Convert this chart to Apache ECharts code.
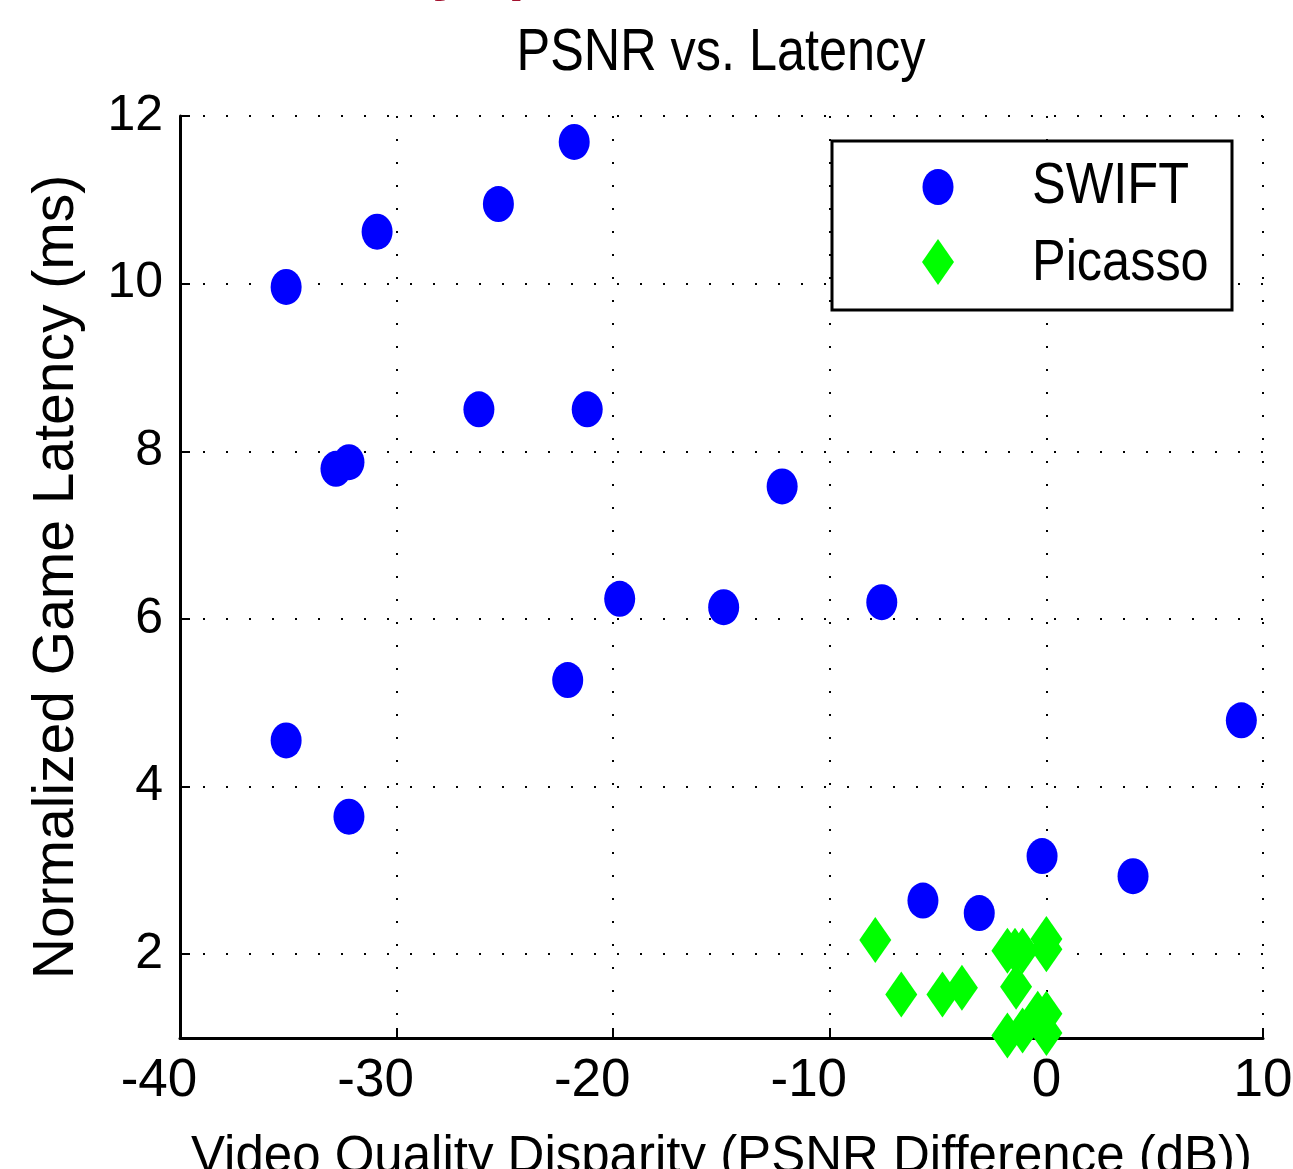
<!DOCTYPE html>
<html>
<head>
<meta charset="utf-8">
<script src="https://cdn.jsdelivr.net/npm/echarts@6/dist/echarts.min.js"></script>
<style>
  html, body { margin: 0; padding: 0; background: #fff; }
  #chart { width: 1293px; height: 1169px; }
</style>
</head>
<body>
<div id="chart"></div>
<script>
// PSNR difference (dB) vs normalized latency (ms)
const swiftX = [-35.1, -30.9, -25.3, -21.8, -32.8, -32.2, -26.2, -21.2, -12.2, -19.7, -14.9, -7.6, -22.1, -35.1, -32.2, 9.0, -0.2, 4.0, -5.7, -3.1];
const swiftY = [9.96, 10.62, 10.95, 11.69, 7.79, 7.87, 8.5, 8.5, 7.58, 6.24, 6.14, 6.2, 5.27, 4.55, 3.64, 4.79, 3.17, 2.93, 2.64, 2.49];
const picassoX = [-7.9, -6.7, -4.8, -3.9, -1.8, -1.45, -1.1, 0.0, 0.0, -1.4, -1.8, -1.1, -0.4, 0.0, 0.0];
const picassoY = [2.17, 1.52, 1.52, 1.6, 2.04, 2.04, 2.04, 2.18, 2.06, 1.61, 1.03, 1.09, 1.29, 1.29, 1.06];
const seriesNames = ['SWIFT', 'Picasso'];
const xTicks = { min: -40, max: 10, step: 10 };
const yRange = { min: 1, max: 12 };

const font = "'Liberation Sans', Arial, sans-serif";

var myChart = echarts.init(document.getElementById('chart'));

const dotted = { color: '#000', width: 2, type: [2, 21] };

option = {
    backgroundColor: '#fff',
    animation: false,
    grid: { left: 180, right: 30, top: 116, bottom: 131, containLabel: false, outerBoundsMode: 'none' },
    xAxis: {
        type: 'value',
        min: xTicks.min,
        max: xTicks.max,
        interval: xTicks.step,
        name: 'Video Quality Disparity (PSNR Difference (dB))',
        nameLocation: 'middle',
        nameGap: 94,
        nameTextStyle: { fontFamily: font, fontSize: 51, color: '#000' },
        axisLine: { onZero: false, lineStyle: { color: '#000', width: 3 } },
        axisTick: { inside: true, length: 10, lineStyle: { color: '#000', width: 2 } },
        axisLabel: {
            margin: 17,
            formatter: function (v) { return v < 0 ? '{n|' + v + '}' : '{p|' + v + '}'; },
            rich: {
                n: { fontFamily: font, fontSize: 53, color: '#000', padding: [0, 42, 0, 0] },
                p: { fontFamily: font, fontSize: 53, color: '#000' }
            }
        },
        splitLine: { show: true, lineStyle: dotted }
    },
    yAxis: {
        type: 'value',
        min: yRange.min,
        max: yRange.max,
        splitNumber: 5,
        name: 'Normalized Game Latency (ms)',
        nameLocation: 'middle',
        nameGap: 94,
        nameTextStyle: { fontFamily: font, fontSize: 57, color: '#000' },
        axisLine: { onZero: false, lineStyle: { color: '#000', width: 3 } },
        axisTick: { inside: true, length: 10, lineStyle: { color: '#000', width: 2 } },
        axisLabel: { showMinLabel: false, margin: 17, fontFamily: font, fontSize: 50, color: '#000' },
        splitLine: { show: true, lineStyle: dotted }
    },
    series: [{
        name: seriesNames[0],
        type: 'scatter',
        symbol: 'circle',
        symbolSize: [31, 36],
        itemStyle: { color: '#0000ff', opacity: 1 },
        data: swiftX.map((x, i) => [x, swiftY[i]])
    }, {
        name: seriesNames[1],
        type: 'scatter',
        symbol: 'diamond',
        symbolSize: [32, 46],
        clip: false,
        itemStyle: { color: '#00ff00', opacity: 1 },
        data: picassoX.map((x, i) => [x, picassoY[i]])
    }],
    graphic: [
        // title, horizontally squeezed like the original figure
        { type: 'text', x: 721, y: 23, scaleX: 0.84, style: { text: 'PSNR vs. Latency', fontFamily: font, fontSize: 60, fill: '#000', align: 'center', verticalAlign: 'top' } },
        // cropped slide heading above the figure
        { type: 'text', left: 432, top: -58, style: { text: 'y', fontFamily: font, fontWeight: 'bold', fontSize: 60, fill: '#a3122e' } },
        { type: 'text', left: 508, top: -58, style: { text: 'p', fontFamily: font, fontWeight: 'bold', fontSize: 60, fill: '#a3122e' } },
        // legend box
        { type: 'rect', shape: { x: 832, y: 141, width: 400, height: 169 }, style: { fill: '#fff', stroke: '#000', lineWidth: 3 }, z: 10 },
        { type: 'ellipse', shape: { cx: 938, cy: 187, rx: 15.5, ry: 18 }, style: { fill: '#0000ff' }, z: 11 },
        { type: 'polygon', shape: { points: [[938, 239], [954, 262], [938, 285], [922, 262]] }, style: { fill: '#00ff00' }, z: 11 },
        { type: 'text', x: 1032, y: 187, scaleX: 0.87, style: { text: seriesNames[0], fontFamily: font, fontSize: 58, fill: '#000', verticalAlign: 'middle' }, z: 11 },
        { type: 'text', x: 1032, y: 264, scaleX: 0.87, style: { text: seriesNames[1], fontFamily: font, fontSize: 58, fill: '#000', verticalAlign: 'middle' }, z: 11 }
    ]
};
myChart.setOption(option);
</script>
</body>
</html>
